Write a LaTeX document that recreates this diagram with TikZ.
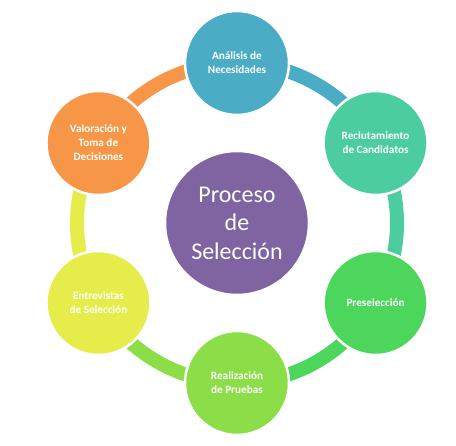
\documentclass[tikz,border=0pt]{standalone}
\usepackage{fontspec}
\setmainfont{Carlito}
\usetikzlibrary{calc, backgrounds}

\definecolor{azul}{RGB}{75,172,198}
\definecolor{turquesa}{RGB}{76,205,160}
\definecolor{verde}{RGB}{76,214,92}
\definecolor{lima}{RGB}{140,222,72}
\definecolor{amarillo}{RGB}{230,236,74}
\definecolor{naranja}{RGB}{247,150,70}
\definecolor{morado}{RGB}{128,100,162}

\tikzset{
	etapa/.style={circle, draw=white, line width=2.5pt, minimum size=104pt, inner sep=0pt,
		text=white, align=center, font=\fontsize{11.2}{14}\selectfont\bfseries},
	proceso/.style={circle, draw=white, line width=1.5pt, fill=morado, minimum size=143pt,
		inner sep=0pt, text=white, align=center, font=\fontsize{24}{28.5}\selectfont},
	anillo/.style={line width=14pt},
}

\begin{document}
\begin{tikzpicture}[x=1pt, y=1pt]
	\useasboundingbox (0,0) rectangle (456,446);
	\coordinate (centro) at (237,223);

	\node[proceso] (seleccion) at (centro) {Proceso\\de\\Selección};

	\node[etapa, fill=azul] (analisis) at ($(centro)+(90:160pt)$) {Análisis de\\Necesidades};
	\node[etapa, fill=turquesa] (reclutamiento) at ($(centro)+(30:160pt)$) {Reclutamiento\\de Candidatos};
	\node[etapa, fill=verde] (preseleccion) at ($(centro)+(-30:160pt)$) {Preselección};
	\node[etapa, fill=lima] (pruebas) at ($(centro)+(-90:160pt)$) {Realización\\de Pruebas};
	\node[etapa, fill=amarillo] (entrevistas) at ($(centro)+(-150:160pt)$) {Entrevistas\\de Selección};
	\node[etapa, fill=naranja] (valoracion) at ($(centro)+(150:160pt)$) {Valoración y\\Toma de\\Decisiones};

	\begin{scope}[on background layer]
		\draw[anillo, azul] (analisis.center) arc[start angle=90, end angle=30, radius=160pt];
		\draw[anillo, turquesa] (reclutamiento.center) arc[start angle=30, end angle=-30, radius=160pt];
		\draw[anillo, verde] (preseleccion.center) arc[start angle=-30, end angle=-90, radius=160pt];
		\draw[anillo, lima] (pruebas.center) arc[start angle=-90, end angle=-150, radius=160pt];
		\draw[anillo, amarillo] (entrevistas.center) arc[start angle=-150, end angle=-210, radius=160pt];
		\draw[anillo, naranja] (valoracion.center) arc[start angle=150, end angle=90, radius=160pt];
	\end{scope}
\end{tikzpicture}
\end{document}
